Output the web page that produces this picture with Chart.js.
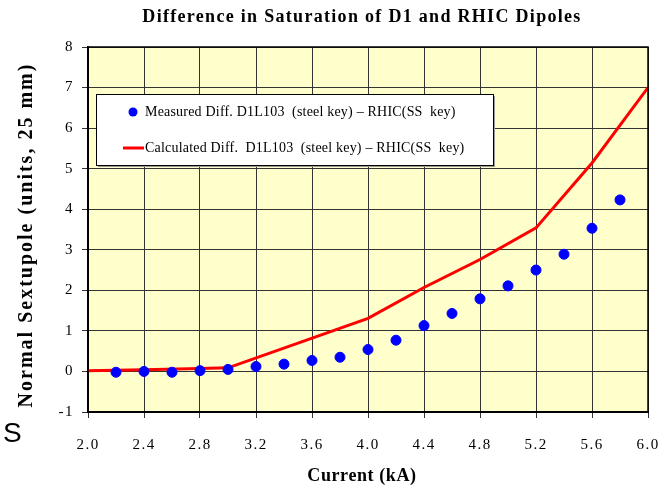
<!DOCTYPE html>
<html lang="en">
<head>
  <meta charset="UTF-8" />
  <title>Difference in Saturation of D1 and RHIC Dipoles</title>
  <script src="https://cdn.jsdelivr.net/npm/chart.js"></script>
  <style>
    html, body { margin: 0; padding: 0; background: #fff; }
    .chart-output { width: 665px; height: 487px; }
  </style>
</head>
<body>
  <div class="chart-output">
    <canvas id="satCanvas" width="665" height="487"></canvas>
  </div>

  <script>
    // measured points (kA, units)
    const measuredX = [2.2, 2.4, 2.6, 2.8, 3.0, 3.2, 3.4, 3.6, 3.8, 4.0, 4.2, 4.4, 4.6, 4.8, 5.0, 5.2, 5.4, 5.6, 5.8];
    const measuredY = [-0.02, 0.0, -0.02, 0.02, 0.05, 0.12, 0.18, 0.27, 0.35, 0.54, 0.77, 1.13, 1.43, 1.79, 2.11, 2.50, 2.89, 3.53, 4.23];

    // calculated curve
    const calcX = [2.0, 2.4, 2.8, 3.0, 4.0, 4.4, 4.8, 5.2, 5.6, 6.0];
    const calcY = [0.02, 0.04, 0.07, 0.09, 1.31, 2.07, 2.76, 3.54, 5.14, 7.0];

    const xTicks = [2.0, 2.4, 2.8, 3.2, 3.6, 4.0, 4.4, 4.8, 5.2, 5.6, 6.0];
    const yTicks = [-1, 0, 1, 2, 3, 4, 5, 6, 7, 8];

    const chartTitle = 'Difference in Saturation of D1 and RHIC Dipoles';
    const xTitle = 'Current (kA)';
    const yTitle = 'Normal Sextupole (units, 25 mm)';
    const labelMeasured = 'Measured Diff. D1L103  (steel key) \u2013 RHIC(SS  key)';
    const labelCalc = 'Calculated Diff.  D1L103  (steel key) \u2013 RHIC(SS  key)';

    const serif = "'Liberation Serif', 'Times New Roman', serif";

    // yellow plot background + border, wide tick lettering
    const plotBg = {
      id: 'plotBg',
      beforeDraw(chart) {
        const { ctx, chartArea: a } = chart;
        ctx.save();
        ctx.fillStyle = '#ffffcc';
        ctx.fillRect(a.left, a.top, a.right - a.left, a.bottom - a.top);
        ctx.restore();
        ctx.letterSpacing = '1.5px';
      },
      afterDatasetsDraw(chart) {
        const { ctx, chartArea: a } = chart;
        ctx.save();
        ctx.strokeStyle = '#000';
        ctx.lineWidth = 1.5;
        ctx.strokeRect(a.left, a.top, a.right - a.left, a.bottom - a.top);
        ctx.restore();
      }
    };

    // titles + legend box drawn inside the plot
    const extras = {
      id: 'extras',
      afterDraw(chart) {
        const { ctx, chartArea: a } = chart;
        const cx = (a.left + a.right) / 2 - 6;
        ctx.save();
        ctx.fillStyle = '#000';
        ctx.textAlign = 'center';
        ctx.textBaseline = 'middle';

        ctx.font = 'bold 18px ' + serif;
        ctx.letterSpacing = '1.3px';
        ctx.fillText(chartTitle, cx, 17);

        ctx.font = 'bold 18px ' + serif;
        ctx.letterSpacing = '0.6px';
        ctx.fillText(xTitle, cx, 476);

        ctx.save();
        ctx.translate(27, 235);
        ctx.rotate(-Math.PI / 2);
        ctx.font = 'bold 20px ' + serif;
        ctx.letterSpacing = '2px';
        ctx.fillText(yTitle, 0, 0);
        ctx.restore();

        // legend
        const x0 = 96, y0 = 94, w = 397, h = 71;
        ctx.letterSpacing = '0.2px';
        ctx.fillStyle = '#999';
        ctx.fillRect(x0 + 2, y0 + 2, w, h);
        ctx.fillStyle = '#fff';
        ctx.fillRect(x0, y0, w, h);
        ctx.strokeStyle = '#000';
        ctx.lineWidth = 1;
        ctx.strokeRect(x0 + 0.5, y0 + 0.5, w, h);

        ctx.font = '14px ' + serif;
        ctx.textAlign = 'left';

        ctx.beginPath();
        ctx.arc(133, 112, 4.5, 0, Math.PI * 2);
        ctx.fillStyle = '#0000ff';
        ctx.fill();
        ctx.fillStyle = '#000';
        ctx.fillText(chart.data.datasets[0].label, 145, 112);

        ctx.beginPath();
        ctx.moveTo(123, 148);
        ctx.lineTo(144, 148);
        ctx.strokeStyle = '#ff0000';
        ctx.lineWidth = 3;
        ctx.stroke();
        ctx.fillText(chart.data.datasets[1].label, 145, 148);

        // stray letter at left edge of the original slide
        ctx.letterSpacing = '0px';
        ctx.font = "28px 'Liberation Sans', Arial, sans-serif";
        ctx.fillText('S', 3, 434);
        ctx.restore();
        ctx.letterSpacing = '0px';
      }
    };

    const ctx = document.getElementById('satCanvas').getContext('2d');
    new Chart(ctx, {
      type: 'scatter',
      data: {
        datasets: [{
          label: labelMeasured,
          data: measuredX.map((x, i) => ({ x: x, y: measuredY[i] })),
          backgroundColor: '#0000ff',
          borderColor: '#0000ff',
          pointRadius: 5,
          pointHoverRadius: 5,
          order: 1
        }, {
          type: 'line',
          label: labelCalc,
          data: calcX.map((x, i) => ({ x: x, y: calcY[i] })),
          borderColor: '#ff0000',
          borderWidth: 3,
          pointRadius: 0,
          tension: 0,
          fill: false,
          order: 2
        }]
      },
      options: {
        responsive: false,
        animation: false,
        layout: { padding: { top: 47, right: 17, left: 0, bottom: 0 } },
        plugins: {
          legend: { display: false },
          tooltip: { enabled: false },
          title: { display: false }
        },
        scales: {
          x: {
            type: 'linear',
            min: 2.0,
            max: 6.0,
            afterFit: s => {
              s.height = 75;
              s.paddingLeft = 12;
              s.paddingRight = 12;
            },
            afterBuildTicks: s => { s.ticks = xTicks.map(v => ({ value: v })); },
            ticks: {
              color: '#000',
              font: { family: serif, size: 15 },
              padding: 18,
              maxRotation: 0,
              callback: v => v.toFixed(1)
            },
            grid: { color: '#333', lineWidth: 1, tickLength: 6, tickColor: '#333' },
            border: { color: '#000', width: 2 }
          },
          y: {
            min: -1,
            max: 8,
            afterFit: s => { s.width = 88; },
            afterBuildTicks: s => { s.ticks = yTicks.map(v => ({ value: v })); },
            ticks: {
              color: '#000',
              font: { family: serif, size: 15 },
              padding: 8
            },
            grid: { color: '#333', lineWidth: 1, tickLength: 6, tickColor: '#333' },
            border: { color: '#000', width: 2 }
          }
        }
      },
      plugins: [plotBg, extras]
    });
  </script>
</body>
</html>
